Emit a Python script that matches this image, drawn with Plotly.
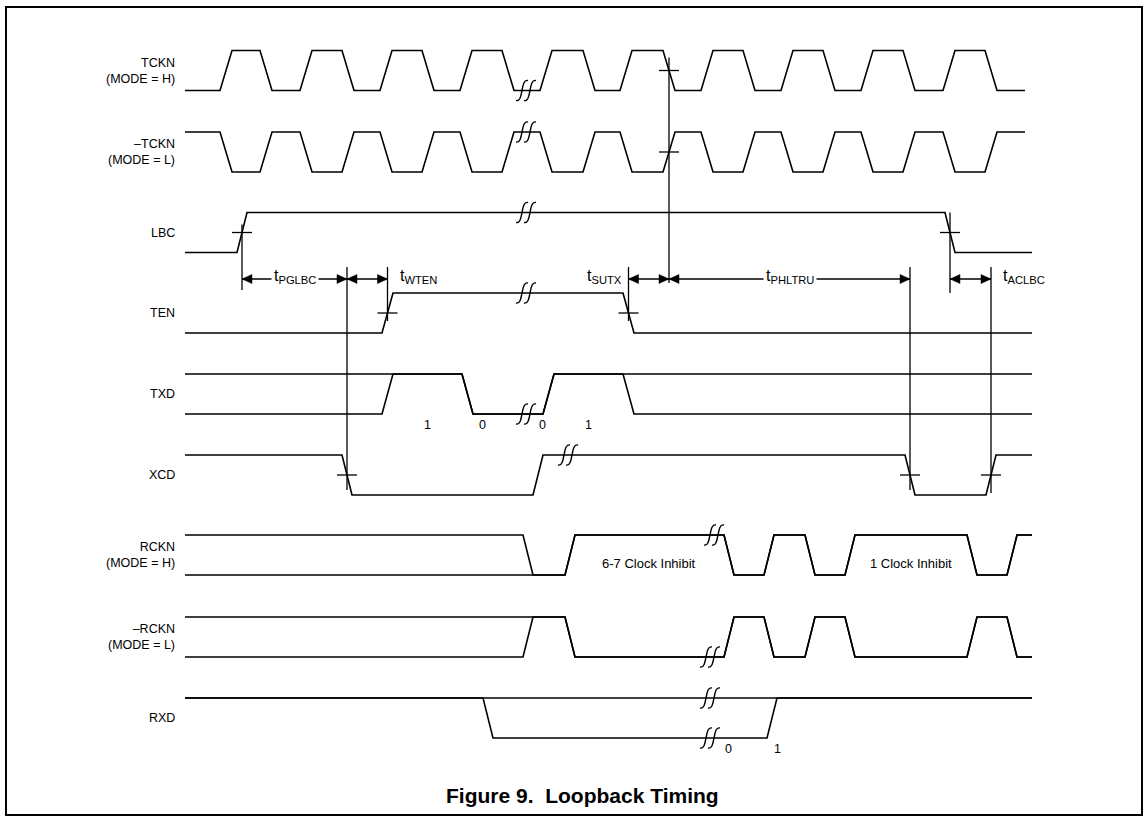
import plotly.graph_objects as go

# ---------------- data (time axis in diagram units) ----------------
T_START = 185
T_END = 1032
T_END_CLK = 1025

row_labels = ["TCKN<br>(MODE = H)", "–TCKN<br>(MODE = L)", "LBC", "TEN", "TXD",
              "XCD", "RCKN<br>(MODE = H)", "–RCKN<br>(MODE = L)", "RXD"]

tckn_edges = [220, 260, 300, 342, 380, 422, 460, 502, 540, 583,
              620, 663, 701, 743, 781, 823, 861, 903, 943, 985]
tckn_states = ["0", "1", "0", "1", "0", "1", "0", "1", "0", "1", "0",
               "1", "0", "1", "0", "1", "0", "1", "0", "1", "0"]
ntckn_states = ["1", "0", "1", "0", "1", "0", "1", "0", "1", "0", "1",
                "0", "1", "0", "1", "0", "1", "0", "1", "0", "1"]
lbc_edges = [237, 945]
lbc_states = ["0", "1", "0"]
ten_edges = [382, 623]
ten_states = ["0", "1", "0"]
txd_edges = [382, 462, 543, 623]
txd_states = ["X", "1", "0", "1", "X"]
txd_bits = ["1", "0", "0", "1"]
txd_bit_t = [427, 482, 542, 588]
xcd_edges = [342, 533, 905, 986]
xcd_states = ["1", "0", "1", "0", "1"]
rckn_edges = [523, 565, 724, 764, 805, 845, 967, 1007]
rckn_states = ["X", "0", "1", "0", "1", "0", "1", "0", "1"]
nrckn_states = ["X", "1", "0", "1", "0", "1", "0", "1", "0"]
rxd_edges = [483, 767]
rxd_states = ["1", "X", "1"]
rxd_bits = ["0", "1"]
rxd_bit_t = [728, 777]
inhibit_labels = ["6-7 Clock Inhibit", "1 Clock Inhibit"]
inhibit_t = [649, 911]
break_rows = [0, 1, 2, 3, 4, 5, 6, 7, 8, 8]
break_t = [527, 527, 527, 527, 527, 569, 715, 711, 711, 711]
break_lvl = ["0", "1", "1", "1", "0", "1", "1", "0", "1", "0"]
timing_names = ["PGLBC", "WTEN", "SUTX", "PHLTRU", "ACLBC"]
title_text = "Figure 9.\u00a0\u00a0Loopback Timing"

# ---------------- layout constants ----------------
W, H = 1148, 820
ROW_Y = [70.5, 152, 232.5, 313, 394, 475, 555, 637, 718]
AMP = 20
ARROW_Y = 279
FONT = "Liberation Sans, Arial, sans-serif"
LW = 1.6

signals = [
    (tckn_edges, tckn_states, 12, T_END_CLK),
    (tckn_edges, ntckn_states, 12, T_END_CLK),
    (lbc_edges, lbc_states, 10, T_END),
    (ten_edges, ten_states, 11, T_END),
    (txd_edges, txd_states, 11, T_END),
    (xcd_edges, xcd_states, 10, T_END),
    (rckn_edges, rckn_states, 10, T_END),
    (rckn_edges, nrckn_states, 10, T_END),
    (rxd_edges, rxd_states, 10, T_END),
]


def level(row, s, rail):
    c = ROW_Y[row]
    if s == "1":
        return c - AMP
    if s == "0":
        return c + AMP
    return c - AMP if rail == "U" else c + AMP


fig = go.Figure()
xs, ys = [], []
for r, (edges, states, slew, tend) in enumerate(signals):
    has_x = "X" in states
    rails = ["U", "L"] if has_x else ["U"]
    bounds = [T_START] + edges + [tend]
    for rail in rails:
        for i, s in enumerate(states):
            a = bounds[i] + (slew if i > 0 else 0)
            b = bounds[i + 1]
            xs += [a, b]
            ys += [level(r, s, rail), level(r, s, rail)]
        xs.append(None)
        ys.append(None)
fig.add_trace(go.Scatter(x=xs, y=ys, mode="lines", line=dict(color="black", width=LW),
                         hoverinfo="skip", showlegend=False))


def mid(edge, slew):
    return edge + slew / 2


ref_lbc_r = mid(lbc_edges[0], 10)
ref_xcd_f1 = mid(xcd_edges[0], 10)
ref_ten_r = mid(ten_edges[0], 11)
ref_ten_f = mid(ten_edges[1], 11)
ref_tck_f = mid(tckn_edges[11], 12)
ref_xcd_f2 = mid(xcd_edges[2], 10)
ref_lbc_f = mid(lbc_edges[1], 10)
ref_xcd_r2 = mid(xcd_edges[3], 10)

# crosses (horizontal ticks at the reference edges)
crosses = [(ref_lbc_r, 2), (ref_xcd_f1, 5), (ref_ten_r, 3), (ref_ten_f, 3),
           (ref_tck_f, 0), (ref_tck_f, 1), (ref_xcd_f2, 5), (ref_lbc_f, 2), (ref_xcd_r2, 5)]
cx, cy = [], []
for x, r in crosses:
    cx += [x - 10, x + 10, None]
    cy += [ROW_Y[r], ROW_Y[r], None]
fig.add_trace(go.Scatter(x=cx, y=cy, mode="lines", line=dict(color="black", width=1.3),
                         hoverinfo="skip", showlegend=False))

# vertical reference lines
vlines = [(ref_lbc_r, ROW_Y[2] - 8, ARROW_Y + 11),
          (ref_xcd_f1, ARROW_Y - 12, ROW_Y[5] + 15),
          (ref_ten_r, ARROW_Y - 12, ROW_Y[3] + 8),
          (ref_ten_f, ARROW_Y - 12, ROW_Y[3] + 8),
          (ref_tck_f, ROW_Y[0] - 13, ARROW_Y + 4),
          (ref_xcd_f2, ARROW_Y - 12, ROW_Y[5] + 15),
          (ref_lbc_f, ROW_Y[2] - 20, ARROW_Y + 14),
          (ref_xcd_r2, ARROW_Y - 12, ROW_Y[5] + 18)]
vx, vy = [], []
for x, y0, y1 in vlines:
    vx += [x, x, None]
    vy += [y0, y1, None]
fig.add_trace(go.Scatter(x=vx, y=vy, mode="lines", line=dict(color="black", width=1.3),
                         hoverinfo="skip", showlegend=False))

# dimension arrows
dims = [(ref_lbc_r, ref_xcd_f1, "center"),
        (ref_xcd_f1, ref_ten_r, "right"),
        (ref_ten_f, ref_tck_f, "left"),
        (ref_tck_f, ref_xcd_f2, "center"),
        (ref_lbc_f, ref_xcd_r2, "right")]
dx, dy, hx, hy = [], [], [], []
AL, AH = 10, 4.5
for (x0, x1, _pos) in dims:
    dx += [x0, x1, None]
    dy += [ARROW_Y, ARROW_Y, None]
    hx += [x0, x0 + AL, x0 + AL, x0, None, x1, x1 - AL, x1 - AL, x1, None]
    hy += [ARROW_Y, ARROW_Y - AH, ARROW_Y + AH, ARROW_Y, None,
           ARROW_Y, ARROW_Y - AH, ARROW_Y + AH, ARROW_Y, None]
fig.add_trace(go.Scatter(x=dx, y=dy, mode="lines", line=dict(color="black", width=1.3),
                         hoverinfo="skip", showlegend=False))
fig.add_trace(go.Scatter(x=hx, y=hy, mode="lines", fill="toself", fillcolor="black",
                         line=dict(color="black", width=0.5), hoverinfo="skip", showlegend=False))

annotations = []
for (x0, x1, pos), name in zip(dims, timing_names):
    txt = f"t<sub>{name}</sub>"
    if pos == "center":
        ax, anchor, bg = (x0 + x1) / 2, "center", "white"
    elif pos == "right":
        ax, anchor, bg = x1 + 9, "left", "rgba(0,0,0,0)"
    else:
        ax, anchor, bg = x0 - 4, "right", "rgba(0,0,0,0)"
    annotations.append(dict(x=ax, y=ARROW_Y - 3, text=txt, showarrow=False, xanchor=anchor,
                            yanchor="middle", bgcolor=bg, borderpad=2,
                            font=dict(family=FONT, size=16, color="black")))

# break marks
shapes = []
for r, t, lv in zip(break_rows, break_t, break_lvl):
    y = level(r, lv, "U")
    p = ""
    for off in (-4, 4):
        x = t + off
        p += f"M{x-7},{y+10} C{x+1},{y+12} {x-3},{y-12} {x+5},{y-10} "
    shapes.append(dict(type="path", path=p, xref="x", yref="y",
                       line=dict(color="black", width=1.4)))

# frame
shapes.append(dict(type="rect", xref="x", yref="y", x0=6, x1=1142, y0=7, y1=815,
                   line=dict(color="black", width=2)))

# row labels
for r, lab in enumerate(row_labels):
    annotations.append(dict(x=177, y=ROW_Y[r], text=lab, showarrow=False, xanchor="right",
                            yanchor="middle", align="right",
                            font=dict(family=FONT, size=12.5, color="black")))

for b, t in zip(txd_bits, txd_bit_t):
    annotations.append(dict(x=t, y=ROW_Y[4] + 31, text=b, showarrow=False,
                            font=dict(family=FONT, size=12.5, color="black")))
for b, t in zip(rxd_bits, rxd_bit_t):
    annotations.append(dict(x=t, y=ROW_Y[8] + 31, text=b, showarrow=False,
                            font=dict(family=FONT, size=12.5, color="black")))
for lab, t in zip(inhibit_labels, inhibit_t):
    annotations.append(dict(x=t, y=ROW_Y[6] + 8, text=lab, showarrow=False,
                            font=dict(family=FONT, size=13, color="black")))

annotations.append(dict(x=582, y=795, text=f"<b>{title_text}</b>", showarrow=False,
                        font=dict(family=FONT, size=21, color="black")))

fig.update_layout(width=W, height=H, margin=dict(l=0, r=0, t=0, b=0),
                  paper_bgcolor="white", plot_bgcolor="white", showlegend=False,
                  xaxis=dict(range=[0, W], visible=False, fixedrange=True),
                  yaxis=dict(range=[H, 0], visible=False, fixedrange=True),
                  shapes=shapes, annotations=annotations)

fig.write_html("out.html", config={"displayModeBar": False},
               post_script="document.body.style.margin='0';")
